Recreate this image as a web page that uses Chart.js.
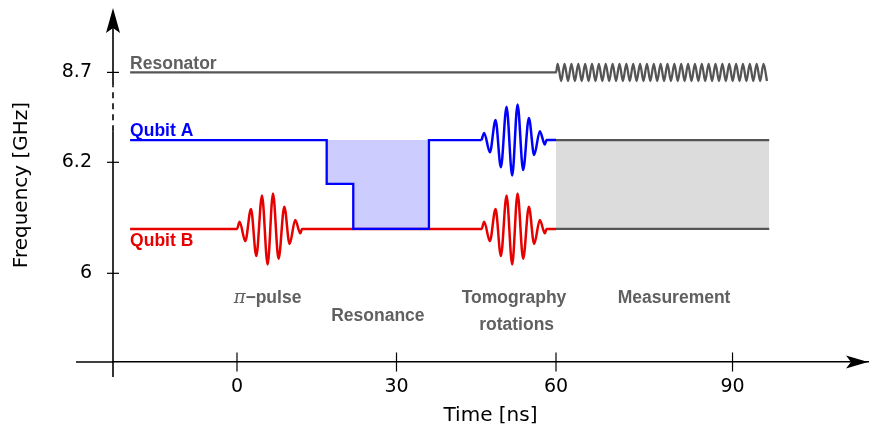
<!DOCTYPE html>
<html>
<head>
<meta charset="utf-8">
<title>Pulse sequence</title>
<script src="https://cdn.jsdelivr.net/npm/chart.js@4.4.1/dist/chart.umd.min.js"></script>
<style>
  html, body { margin: 0; padding: 0; background: #fff; }
  #wrap { width: 870px; height: 437px; position: relative; }
</style>
</head>
<body>
<div id="wrap"><canvas id="seq"></canvas></div>
<script>
// --- Data (time in ns, frequency in GHz) ---
// The frequency axis is broken between 6.2 and 8.7, the resonator sits just above the break.
const freqTickPos = [6, 6.2, 6.362];
const freqTickLabels = ['6', '6.2', '8.7'];
// The measurement part of the time axis is stretched in the original, so "90" sits a bit right of 90.
const timeTickPos = [0, 30, 60, 93.2];
const timeTickLabels = ['0', '30', '60', '90'];

const levelResonator = 6.362;
const levelA = 6.240;
const levelAStep = 6.161;
const levelB = 6.080;

const tStart = -20.1;
const tMeasure = 60;
const tEnd = 100.1;

// qubit A is tuned down into resonance with B and back
const stepT = [tStart, 16.87, 16.87, 21.87, 21.87, 36.1, 36.1, 46.0];
const stepF = [levelA, levelA, levelAStep, levelAStep, levelB, levelB, levelA, levelA];

// drive pulse: time from pulse start and frequency swing of each lobe
const pulseDt = [0, 0.49, 1.56, 2.63, 3.63, 4.70, 5.76, 6.77, 7.82, 8.90, 9.89, 10.96, 11.91, 12.22];
const pulseDf = [0, 0.013, -0.022, 0.036, -0.049, 0.060, -0.064, 0.064, -0.054, 0.040, -0.027, 0.016, -0.008, 0];
const piPulseStart = 0;
const tomoPulseStart = 46.0;

// resonator readout tone: times of its swings
const resT = [60.32, 60.97, 61.61, 62.26, 62.90, 63.55, 64.19, 64.84, 65.48, 66.13,
              66.77, 67.42, 68.06, 68.71, 69.35, 70.00, 70.65, 71.29, 71.94, 72.58,
              73.23, 73.87, 74.52, 75.16, 75.81, 76.45, 77.10, 77.74, 78.39, 79.03,
              79.68, 80.32, 80.97, 81.61, 82.26, 82.90, 83.55, 84.19, 84.84, 85.48,
              86.13, 86.77, 87.42, 88.06, 88.71, 89.35, 90.00, 90.65, 91.29, 91.94,
              92.58, 93.23, 93.87, 94.52, 95.16, 95.81, 96.45, 97.10, 97.74, 98.39,
              99.03, 99.68];
const resSwing = 0.0155;

// labels: text, time, frequency (baseline)
const lineLabels = [
  { text: 'Resonator', t: tStart, f: 6.368, color: '#606060' },
  { text: 'Qubit A', t: tStart, f: 6.2474, color: '#0000ff' },
  { text: 'Qubit B', t: tStart, f: 6.050, color: '#e60000' }
];
const stageLabels = [
  { text: '−pulse', pi: true, t: 5.74, f: 5.946 },
  { text: 'Resonance', t: 26.5, f: 5.9146 },
  { text: 'Tomography', t: 52.1, f: 5.9465 },
  { text: 'rotations', t: 52.6, f: 5.8978 },
  { text: 'Measurement', t: 82.2, f: 5.9465 }
];
const yBreak = [6.256, 6.338];

// --- Build line points ---
function pulsePoints(start, level) {
  return pulseDt.map((dt, i) => ({ x: start + dt, y: level + pulseDf[i] }));
}
const stepPts = stepT.map((t, i) => ({ x: t, y: stepF[i] }));
const aPulse = [...pulsePoints(tomoPulseStart, levelA), { x: tMeasure, y: levelA }];
const bLine = [{ x: tStart, y: levelB }, ...pulsePoints(piPulseStart, levelB),
               ...pulsePoints(tomoPulseStart, levelB), { x: tMeasure, y: levelB }];
const resLine = [{ x: tStart, y: levelResonator }, { x: tMeasure, y: levelResonator },
                 ...resT.map((t, i) => ({ x: t, y: levelResonator + (i % 2 ? -resSwing : resSwing) }))];
const grayA = [{ x: tMeasure, y: levelA }, { x: tEnd, y: levelA }];
const grayB = [{ x: tMeasure, y: levelB }, { x: tEnd, y: levelB }];

const sans = "'DejaVu Sans', sans-serif";
const boldLabel = "bold 17.5px 'Liberation Sans', Arial, sans-serif";

function seg(ctx, x1, y1, x2, y2) {
  ctx.beginPath(); ctx.moveTo(x1, y1); ctx.lineTo(x2, y2); ctx.stroke();
}

// axes decoration, tick marks and labels
const sketchPlugin = {
  id: 'sketch',
  afterDraw(chart) {
    const { ctx, chartArea: a, scales: { x, y } } = chart;
    const ax = a.left, ay = a.bottom;
    ctx.save();
    ctx.strokeStyle = '#000';
    ctx.fillStyle = '#000';
    ctx.lineWidth = 1.6;

    // x axis continues left of the y axis
    seg(ctx, 76, ay, ax, ay);
    // y axis, dashed over the break
    const b0 = y.getPixelForValue(yBreak[0]);
    const b1 = y.getPixelForValue(yBreak[1]);
    seg(ctx, ax, ay + 15, ax, b0);
    ctx.setLineDash([6, 5]);
    seg(ctx, ax, b0, ax, b1);
    ctx.setLineDash([]);
    seg(ctx, ax, b1, ax, a.top + 20);

    // arrow heads
    ctx.beginPath();
    ctx.moveTo(ax, a.top);
    ctx.lineTo(ax + 7, a.top + 25);
    ctx.lineTo(ax, a.top + 20);
    ctx.lineTo(ax - 7, a.top + 25);
    ctx.closePath(); ctx.fill();
    ctx.beginPath();
    ctx.moveTo(a.right, ay);
    ctx.lineTo(a.right - 22, ay - 6.5);
    ctx.lineTo(a.right - 17, ay);
    ctx.lineTo(a.right - 22, ay + 6.5);
    ctx.closePath(); ctx.fill();

    // tick marks across the axes
    ctx.lineWidth = 1.2;
    x.ticks.forEach(t => {
      const px = x.getPixelForValue(t.value);
      seg(ctx, px, ay - 9.5, px, ay + 9.5);
    });
    y.ticks.forEach(t => {
      const py = y.getPixelForValue(t.value);
      seg(ctx, ax - 6, py, ax + 6, py);
    });

    // line names
    ctx.textBaseline = 'alphabetic';
    ctx.font = boldLabel;
    ctx.textAlign = 'left';
    lineLabels.forEach(l => {
      ctx.fillStyle = l.color;
      ctx.fillText(l.text, x.getPixelForValue(l.t), y.getPixelForValue(l.f));
    });

    // stage names
    ctx.fillStyle = '#606060';
    stageLabels.forEach(l => {
      const cx = x.getPixelForValue(l.t);
      const by = y.getPixelForValue(l.f);
      if (l.pi) {
        const piFont = "italic 18px 'DejaVu Serif', serif";
        ctx.font = piFont;
        const wPi = ctx.measureText('π').width;
        ctx.font = boldLabel;
        const wTxt = ctx.measureText(l.text).width;
        const x0 = cx - (wPi + wTxt) / 2;
        ctx.textAlign = 'left';
        ctx.font = piFont;
        ctx.fillText('π', x0, by);
        ctx.font = boldLabel;
        ctx.fillText(l.text, x0 + wPi, by);
      } else {
        ctx.font = boldLabel;
        ctx.textAlign = 'center';
        ctx.fillText(l.text, cx, by);
      }
    });
    ctx.restore();
  }
};

const blue = '#0000ff';
const red = '#e60000';
const gray = '#555555';

new Chart(document.getElementById('seq'), {
  type: 'line',
  data: {
    datasets: [
      { label: 'Qubit A', data: stepPts, borderColor: blue, borderWidth: 2.3, tension: 0,
        fill: { value: levelA }, backgroundColor: 'rgba(0, 0, 255, 0.2)' },
      { label: 'Qubit A pulse', data: aPulse, borderColor: blue, borderWidth: 2.5,
        cubicInterpolationMode: 'monotone', fill: false },
      { label: 'Qubit B', data: bLine, borderColor: red, borderWidth: 2.5,
        cubicInterpolationMode: 'monotone', fill: false },
      { label: 'Resonator', data: resLine, borderColor: gray, borderWidth: 2.3,
        cubicInterpolationMode: 'monotone', fill: false },
      { label: 'Qubit B readout', data: grayB, borderColor: gray, borderWidth: 2.3, fill: false },
      { label: 'Qubit A readout', data: grayA, borderColor: gray, borderWidth: 2.3,
        fill: { value: levelB }, backgroundColor: '#dcdcdc' }
    ]
  },
  options: {
    animation: false,
    responsive: true,
    maintainAspectRatio: false,
    elements: { point: { radius: 0 } },
    layout: { padding: { top: 8, right: 2, left: 0, bottom: 0 } },
    plugins: { legend: { display: false }, tooltip: { enabled: false } },
    scales: {
      x: {
        type: 'linear',
        min: -23.32,
        max: 118.68,
        afterFit: s => { s.height = 75; s.paddingLeft = 0; s.paddingRight = 0; },
        afterBuildTicks: s => { s.ticks = timeTickPos.map(v => ({ value: v })); },
        grid: { display: false, drawTicks: false },
        border: { display: true, color: '#000', width: 1.6 },
        ticks: {
          color: '#000', font: { family: sans, size: 19 }, padding: 14,
          maxRotation: 0, autoSkip: false,
          callback: (v, i) => timeTickLabels[i]
        },
        title: { display: true, text: 'Time [ns]', color: '#000',
                 font: { family: sans, size: 20 }, padding: { top: 0, bottom: 9 } }
      },
      y: {
        type: 'linear',
        min: 5.8402,
        max: 6.478,
        // keep the tick label padding from pushing the plot area down
        afterFit: s => { s.width = 113; s.paddingTop = 0; s.paddingBottom = 0; },
        afterBuildTicks: s => { s.ticks = freqTickPos.map(v => ({ value: v })); },
        grid: { display: false, drawTicks: false },
        border: { display: false },
        ticks: {
          color: '#000', font: { family: sans, size: 19 }, padding: 21,
          autoSkip: false,
          callback: (v, i) => freqTickLabels[i]
        },
        title: { display: true, text: 'Frequency [GHz]', color: '#000',
                 font: { family: sans, size: 20 }, padding: { top: 10, bottom: 0 } }
      }
    }
  },
  plugins: [sketchPlugin]
});
</script>
</body>
</html>
